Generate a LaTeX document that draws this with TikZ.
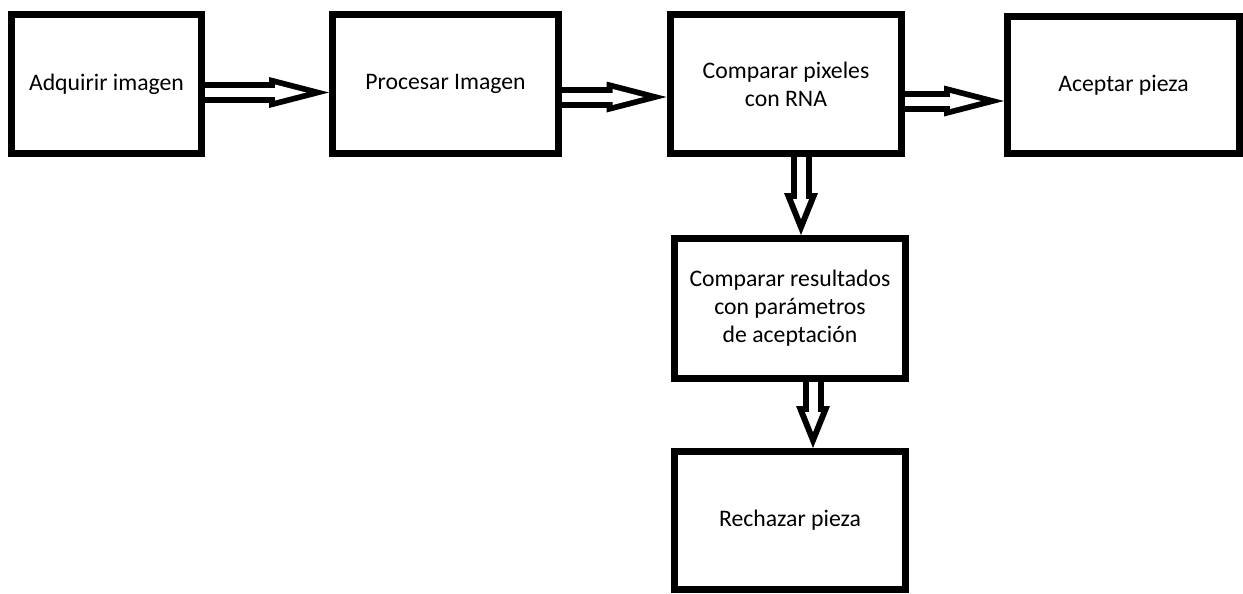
\documentclass[tikz,border=0pt]{standalone}
\usepackage{fontspec}
\setmainfont{Carlito}
\usetikzlibrary{arrows.meta}
\begin{document}
\begin{tikzpicture}[x=0.02cm, y=-0.02cm,
    box/.style={draw, line width=0.14cm, minimum width=#1, minimum height=2.8cm, inner sep=0pt, align=center, font=\fontsize{13.5}{16}\selectfont},
    hflow/.style={line width=0.42cm, -{Triangle[length=1.2cm, width=0.62cm, line width=0pt]},
        postaction={draw=white, line width=0.18cm, shorten >=0.46cm, -{Triangle[length=0.62cm, width=0.32cm, line width=0pt]}}},
    vflow/.style={line width=0.42cm, -{Triangle[length=0.84cm, width=0.68cm, line width=0pt]},
        postaction={draw=white, line width=0.18cm, shorten >=0.32cm, -{Triangle[length=0.4cm, width=0.32cm, line width=0pt]}}}]
    \useasboundingbox (0,0) rectangle (1243,593);
    %nodes
    \node[box=3.8cm] at (106.5,84) (adq) {Adquirir imagen};
    \node[box=4.52cm] at (445.5,84) (proc) {Procesar Imagen};
    \node[box=4.64cm] at (786,84) (cmp) {Comparar pixeles\\con RNA};
    \node[box=4.64cm, minimum height=2.76cm] at (1123.5,85) (acc) {Aceptar pieza};
    \node[box=4.62cm] at (790,308.5) (res) {Comparar resultados\\con parámetros\\de aceptación};
    \node[box=4.62cm, minimum height=2.76cm] at (790,520.5) (rech) {Rechazar pieza};
    %arrows
    \coordinate (a1) at ([yshift=-0.17cm]adq.east);
    \coordinate (a2) at ([yshift=-0.26cm]proc.east);
    \coordinate (a3) at ([yshift=-0.34cm]cmp.east);
    \coordinate (a4) at ([xshift=0.3cm]cmp.south);
    \coordinate (a5) at ([xshift=0.46cm]res.south);
    \draw[hflow] (a1) -- (a1 -| proc.west);
    \draw[hflow] (a2) -- (a2 -| cmp.west);
    \draw[hflow] (a3) -- (a3 -| acc.west);
    \draw[vflow] (a4) -- (a4 |- res.north);
    \draw[vflow] (a5) -- (a5 |- rech.north);
\end{tikzpicture}
\end{document}
